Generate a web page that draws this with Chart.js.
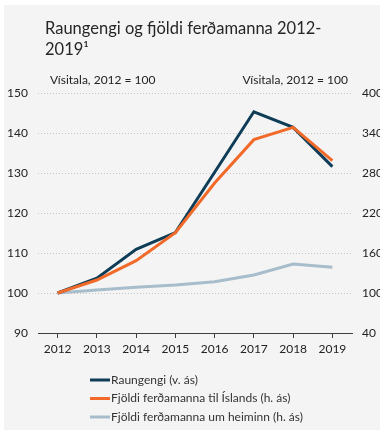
<!DOCTYPE html>
<html>
<head>
<meta charset="utf-8">
<script src="https://cdn.jsdelivr.net/npm/chart.js@4"></script>
<style>
  html, body { margin: 0; padding: 0; background: #fff; }
  #wrap { width: 380px; height: 430px; }
</style>
</head>
<body>
<div id="wrap"><canvas id="myChart" width="380" height="430"></canvas></div>
<script>
// years on the x axis
const years = ['2012', '2013', '2014', '2015', '2016', '2017', '2018', '2019'];

// real exchange rate, left axis (2012 = 100)
const raungengi = [100, 103.7, 110.9, 115.1, 130.2, 145.3, 141.4, 131.6];
// tourists to Iceland, right axis (2012 = 100)
const ferdamennIsland = [100, 119.5, 148.5, 190.5, 265, 330, 348.5, 298.5];
// tourists worldwide, right axis (2012 = 100)
const ferdamennHeimur = [100, 104.5, 108.5, 112, 117, 127, 143.5, 138.5];

const seriesNames = [
  'Raungengi (v. ás)',
  'Fjöldi ferðamanna til Íslands (h. ás)',
  'Fjöldi ferðamanna um heiminn (h. ás)'
];
const seriesColors = ['#0f3d57', '#f26a2a', '#a7bdcb'];

const titleLines = ['Raungengi og fjöldi ferðamanna 2012-', '2019¹'];
const unitLabel = 'Vísitala, 2012 = 100';

const FONT = 'Lato, "Open Sans", sans-serif';

// background, heading, unit labels and the stacked legend
const decor = {
  id: 'decor',
  beforeDraw(chart) {
    const ctx = chart.ctx;
    ctx.save();
    ctx.fillStyle = '#f4f4f4';
    ctx.fillRect(4, 5, chart.width - 4, chart.height - 5);
    ctx.restore();
  },
  afterDraw(chart) {
    const ctx = chart.ctx;
    const area = chart.chartArea;
    ctx.save();
    ctx.fillStyle = '#262626';
    ctx.textBaseline = 'alphabetic';
    ctx.textAlign = 'left';
    ctx.font = '16.5px ' + FONT;
    ctx.fillText(titleLines[0], 45, 34);
    ctx.fillText(titleLines[1], 45, 55);

    ctx.font = '12px ' + FONT;
    ctx.fillStyle = '#222';
    ctx.fillText(unitLabel, 50, 84);
    ctx.textAlign = 'right';
    ctx.fillText(unitLabel, area.right - 4, 84);

    // legend, one entry per row
    ctx.textAlign = 'left';
    ctx.textBaseline = 'middle';
    chart.data.datasets.forEach((ds, i) => {
      const y = 380 + i * 18.5;
      ctx.strokeStyle = ds.borderColor;
      ctx.lineWidth = 3;
      ctx.beginPath();
      ctx.moveTo(90, y);
      ctx.lineTo(110, y);
      ctx.stroke();
      ctx.fillStyle = '#333';
      ctx.fillText(ds.label, 111, y);
    });
    ctx.restore();
  }
};

const config = {
  type: 'line',
  data: {
    labels: years,
    datasets: [
      { label: seriesNames[0], data: raungengi, borderColor: seriesColors[0], yAxisID: 'y' },
      { label: seriesNames[1], data: ferdamennIsland, borderColor: seriesColors[1], yAxisID: 'y1' },
      { label: seriesNames[2], data: ferdamennHeimur, borderColor: seriesColors[2], yAxisID: 'y1' }
    ].map((d, i) => Object.assign(d, {
      borderWidth: 3,
      pointRadius: 0,
      tension: 0,
      fill: false,
      order: i === 0 ? 1 : (i === 1 ? 0 : 2)
    }))
  },
  options: {
    responsive: false,
    animation: false,
    layout: { padding: { top: 93, bottom: 65, left: 0, right: 0 } },
    plugins: {
      legend: { display: false },
      title: { display: false },
      tooltip: { enabled: false }
    },
    scales: {
      x: {
        offset: true,
        grid: {
          display: true,
          drawOnChartArea: false,
          drawTicks: true,
          tickLength: 5,
          color: '#404040'
        },
        border: { display: true, color: '#404040', width: 1 },
        ticks: { color: '#222', font: { family: FONT, size: 12 }, padding: 4 },
        afterFit(scale) { scale.height = 32; }
      },
      y: {
        position: 'left',
        min: 90,
        max: 150,
        ticks: { stepSize: 10, color: '#222', font: { family: FONT, size: 12 }, padding: 10 },
        grid: { color: '#c4c4c4', lineWidth: 1, drawTicks: false },
        border: { display: false, dash: [1, 2] },
        afterFit(scale) { scale.width = 38; }
      },
      y1: {
        position: 'right',
        min: 40,
        max: 400,
        ticks: { stepSize: 60, color: '#222', font: { family: FONT, size: 12 }, padding: 10 },
        grid: { display: false, drawTicks: false },
        border: { display: false },
        afterFit(scale) { scale.width = 28; }
      }
    }
  },
  plugins: [decor]
};

const myChart = new Chart(document.getElementById('myChart'), config);
</script>
</body>
</html>
